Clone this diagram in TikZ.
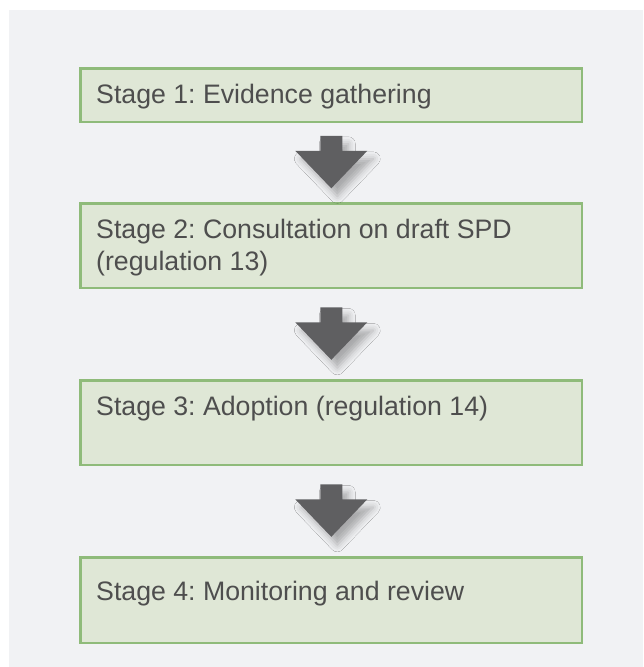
\documentclass[tikz,border=0pt]{standalone}
\usepackage{fontspec}
\setmainfont{Liberation Sans}
\usetikzlibrary{calc,shadows.blur}
\definecolor{panel}{RGB}{241,242,244}
\definecolor{boxfill}{RGB}{223,231,214}
\definecolor{boxline}{RGB}{143,187,122}
\definecolor{arrowgrey}{RGB}{95,95,97}
\definecolor{txt}{RGB}{78,78,78}
\begin{document}
\frenchspacing
\begin{tikzpicture}[x=1pt,y=-1pt,
  stagebox/.style={draw=boxline, line width=2.6pt, fill=boxfill, minimum width=501.4pt, inner sep=0pt, anchor=north west},
  stagetext/.style={anchor=base west, inner sep=0pt, text=txt, font=\fontsize{26.7}{32}\selectfont\frenchspacing, align=left},
  blockarrow/.style={fill=arrowgrey, blur shadow={shadow xshift=6pt, shadow yshift=-8pt, shadow blur radius=7pt, shadow opacity=30}},
  downarrow/.pic={\fill[blockarrow] (-11,-27) -- (11,-27) -- (11,-12) -- (36,-12) -- (0,25.5) -- (-36,-12) -- (-11,-12) -- cycle;}]
\useasboundingbox (0,0) rectangle (643,667);
\fill[white] (0,0) rectangle (643,667);
\fill[panel] (9,10) rectangle (643,667);

\node[stagebox, minimum height=53.4pt] (s1) at (79.3,67.3) {};
\node[stagebox, minimum height=84.4pt] (s2) at (79.3,202.3) {};
\node[stagebox, minimum height=84.4pt] (s3) at (79.3,379.3) {};
\node[stagebox, minimum height=85.4pt] (s4) at (79.3,556.3) {};

\node[stagetext] (t1) at (96,103) {Stage 1: Evidence gathering};
\node[stagetext] (t2) at (96,270) {Stage 2: Consultation on draft SPD\\(regulation 13)};
\node[stagetext] (t3) at (96,415) {Stage 3: Adoption (regulation 14)};
\node[stagetext] (t4) at (96,600) {Stage 4: Monitoring and review};

\coordinate (m1) at ($(s1.south)!0.5!(s2.north)$);
\coordinate (m2) at ($(s2.south)!0.5!(s3.north)$);
\coordinate (m3) at ($(s3.south)!0.5!(s4.north)$);
\pic at (m1) {downarrow};
\pic at (m2) {downarrow};
\pic at (m3) {downarrow};
\end{tikzpicture}
\end{document}
